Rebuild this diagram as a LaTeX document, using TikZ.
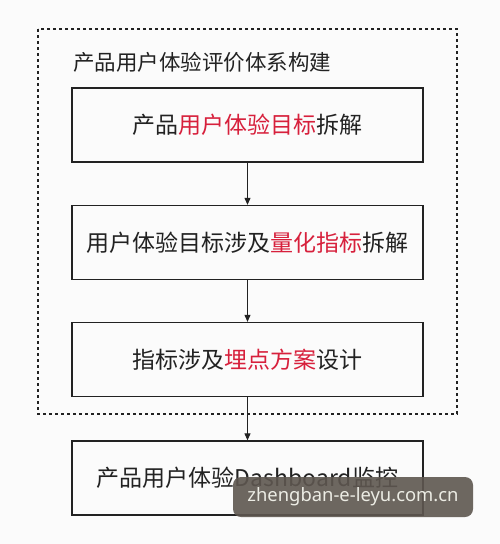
\documentclass[tikz,border=0pt]{standalone}
\usepackage{fontspec}
\setmainfont{Noto Sans CJK SC}
\newfontfamily\wmfont{Noto Sans}
\usetikzlibrary{arrows.meta}
\definecolor{hl}{HTML}{D7203C}
\definecolor{tx}{HTML}{222222}
\definecolor{wmbg}{HTML}{5E5750}
\definecolor{wmtx}{HTML}{ECECE4}
\begin{document}
\begin{tikzpicture}[x=1pt,y=-1pt,
  stepbox/.style={draw=tx,line width=1.3pt,minimum width=351pt,minimum height=74pt,inner sep=0pt,font=\fontsize{23}{27}\selectfont,text=tx},
  arr/.style={draw=tx,line width=1pt,-{Triangle[length=7pt,width=6pt]}}]
\fill[white!97!gray] (0,0) rectangle (500,544);
\useasboundingbox (0,0) rectangle (500,544);
\draw[tx,line width=1.4pt,dash pattern=on 3pt off 3pt] (38,29) rectangle (457,414);
\node[anchor=west,text=tx,font=\fontsize{21.5}{25}\selectfont,inner sep=0pt] (title) at (73,62) {产品用户体验评价体系构建};
\node[stepbox] (s1) at (247.5,125) {产品\textcolor{hl}{用户体验目标}拆解};
\node[stepbox] (s2) at (247.5,242.5) {用户体验目标涉及\textcolor{hl}{量化指标}拆解};
\node[stepbox] (s3) at (247.5,359.5) {指标涉及\textcolor{hl}{埋点方案}设计};
\node[stepbox] (s4) at (247.5,478) {产品用户体验Dashboard监控};
\draw[arr] (s1) -- (s2);
\draw[arr] (s2) -- (s3);
\draw[arr] (s3) -- (s4);
\node[fill=wmbg,fill opacity=0.9,text opacity=1,rounded corners=8pt,minimum width=240pt,minimum height=40pt,inner sep=0pt,text=wmtx,font=\wmfont\fontsize{18.4}{20}\selectfont] (wm) at (353,497) {zhengban-e-leyu.com.cn};
\end{tikzpicture}
\end{document}
